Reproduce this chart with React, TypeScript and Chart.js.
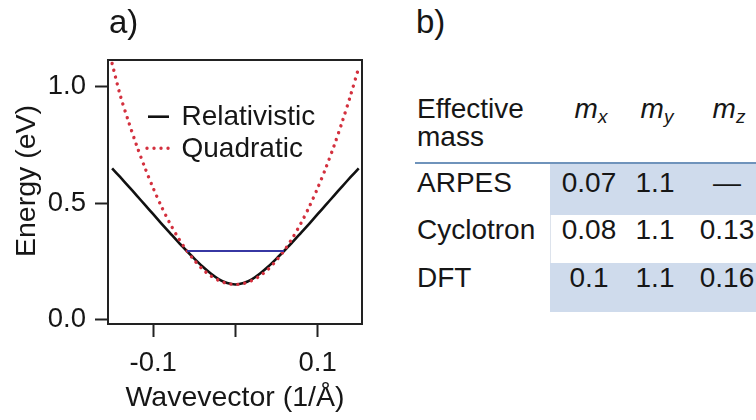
import React, { useEffect, useRef } from 'react';
import { Chart, registerables } from 'chart.js';

Chart.register(...registerables);

// ---------- data (panel a) ----------
const waveVector = [
  -0.15, -0.14, -0.13, -0.12, -0.11, -0.10, -0.09, -0.08, -0.07, -0.06, -0.05, -0.04, -0.03, -0.02, -0.01,
  0.0, 0.01, 0.02, 0.03, 0.04, 0.05, 0.06, 0.07, 0.08, 0.09, 0.10, 0.11, 0.12, 0.13, 0.14, 0.15,
];
const relativisticEnergy = [
  0.649, 0.611, 0.572, 0.532, 0.492, 0.452, 0.412, 0.373, 0.334, 0.297, 0.261, 0.227, 0.197, 0.172, 0.156,
  0.150, 0.156, 0.172, 0.197, 0.227, 0.261, 0.297, 0.334, 0.373, 0.412, 0.452, 0.492, 0.532, 0.572, 0.611, 0.649,
];
const quadraticEnergy = [
  1.100, 0.962, 0.850, 0.746, 0.651, 0.564, 0.485, 0.415, 0.353, 0.299, 0.254, 0.216, 0.187, 0.167, 0.154,
  0.150, 0.154, 0.167, 0.187, 0.216, 0.254, 0.299, 0.353, 0.415, 0.485, 0.564, 0.651, 0.746, 0.850, 0.962, 1.082,
];
const fermiWaveVector = [-0.059, 0.059];
const fermiEnergy = [0.294, 0.294];

const seriesLabels = ['Relativistic', 'Quadratic'];
const xTickValues = [-0.1, 0, 0.1];
const xTickLabels = ['-0.1', '', '0.1'];
const yTickValues = [0, 0.5, 1.0];
const yTickLabels = ['0.0', '0.5', '1.0'];
const xAxisTitle = 'Wavevector (1/Å)';
const yAxisTitle = 'Energy (eV)';

// ---------- data (panel b) ----------
const methods = ['ARPES', 'Cyclotron', 'DFT'];
const massColumns = ['x', 'y', 'z'];
const massX = ['0.07', '0.08', '0.1'];
const massY = ['1.1', '1.1', '1.1'];
const massZ = ['—', '0.13', '0.16'];

const FONT = "'Liberation Sans', Arial, sans-serif";
const INK = '#161616';

const decorPlugin = {
  id: 'decor',
  afterDatasetsDraw(chart: any) {
    const { ctx, chartArea: a } = chart;
    ctx.save();
    // plot frame
    ctx.strokeStyle = '#222';
    ctx.lineWidth = 2;
    ctx.strokeRect(a.left, a.top, a.right - a.left, a.bottom - a.top);
    // legend inside plot
    const rows = [56.7, 88.3];
    chart.data.datasets.slice(0, 2).forEach((ds: any, i: number) => {
      const y = a.top + rows[i];
      ctx.save();
      ctx.strokeStyle = ds.borderColor;
      ctx.lineWidth = ds.borderWidth;
      ctx.lineCap = ds.borderCapStyle || 'butt';
      ctx.setLineDash(ds.borderDash || []);
      ctx.beginPath();
      ctx.moveTo(a.left + (ds.borderDash ? 39 : 40), y);
      ctx.lineTo(a.left + 61, y);
      ctx.stroke();
      ctx.restore();
      ctx.fillStyle = INK;
      ctx.font = `28px ${FONT}`;
      ctx.textAlign = 'left';
      ctx.textBaseline = 'middle';
      ctx.fillText(ds.label, a.left + 73.5, y + 0.5);
    });
    ctx.restore();
  },
  afterDraw(chart: any) {
    const { ctx } = chart;
    ctx.save();
    ctx.fillStyle = INK;
    // panel label
    ctx.font = `33px ${FONT}`;
    ctx.textAlign = 'left';
    ctx.textBaseline = 'alphabetic';
    ctx.fillText('a)', 109, 33);
    // y axis title
    ctx.font = `28.5px ${FONT}`;
    ctx.translate(35, 181);
    ctx.rotate(-Math.PI / 2);
    ctx.textAlign = 'center';
    ctx.fillText(yAxisTitle, 0, 0);
    ctx.restore();
  },
};

function EnergyChart() {
  const ref = useRef<HTMLCanvasElement | null>(null);
  useEffect(() => {
    if (!ref.current) return;
    const toPts = (xs: number[], ys: number[]) => xs.map((x, i) => ({ x, y: ys[i] }));
    const chart = new Chart(ref.current, {
      type: 'scatter',
      data: {
        datasets: [
          {
            label: seriesLabels[0],
            data: toPts(waveVector, relativisticEnergy),
            showLine: true,
            borderColor: '#111111',
            borderWidth: 2.6,
            pointRadius: 0,
            tension: 0.3,
            order: 2,
          },
          {
            label: seriesLabels[1],
            data: toPts(waveVector, quadraticEnergy),
            showLine: true,
            borderColor: '#d3303e',
            borderWidth: 3.4,
            borderDash: [0.01, 7],
            borderCapStyle: 'round',
            pointRadius: 0,
            tension: 0.3,
            order: 1,
          },
          {
            label: 'Fermi level',
            data: toPts(fermiWaveVector, fermiEnergy),
            showLine: true,
            borderColor: '#3737a3',
            borderWidth: 2,
            pointRadius: 0,
            order: 0,
          },
        ],
      } as any,
      options: {
        animation: false,
        responsive: false,
        events: [],
        layout: { padding: { left: 0, right: 18, top: 60, bottom: 0 } },
        plugins: { legend: { display: false }, tooltip: { enabled: false }, title: { display: false } },
        scales: {
          x: {
            type: 'linear',
            min: -0.155,
            max: 0.154,
            afterFit: (s: any) => { s.height = 96; },
            afterBuildTicks: (s: any) => { s.ticks = xTickValues.map((v) => ({ value: v })); },
            ticks: {
              callback: (_v: any, i: number) => xTickLabels[i],
              color: INK,
              font: { family: FONT, size: 27.5 },
              padding: 10,
              maxRotation: 0,
              autoSkip: false,
            },
            grid: { drawOnChartArea: false, drawTicks: true, tickLength: 13, tickColor: '#222', tickWidth: 2 },
            border: { display: false },
            title: { display: true, text: xAxisTitle, color: INK, font: { family: FONT, size: 28.5 }, padding: { top: 0, bottom: 4.5 } },
          },
          y: {
            type: 'linear',
            min: -0.02,
            max: 1.115,
            afterFit: (s: any) => { s.width = 108; },
            afterBuildTicks: (s: any) => { s.ticks = yTickValues.map((v) => ({ value: v })); },
            ticks: {
              callback: (_v: any, i: number) => yTickLabels[i],
              color: INK,
              font: { family: FONT, size: 27.5 },
              padding: 9,
              autoSkip: false,
            },
            grid: { drawOnChartArea: false, drawTicks: true, tickLength: 13, tickColor: '#222', tickWidth: 2 },
            border: { display: false },
          },
        },
      } as any,
      plugins: [decorPlugin as any],
    });
    return () => chart.destroy();
  }, []);
  return <canvas ref={ref} width={380} height={420} style={{ display: 'block', width: 380, height: 420 }} />;
}

function T(props: { x: number; base: number; size?: number; center?: boolean; children: any }) {
  const size = props.size ?? 28;
  const top = props.base - 0.8465 * size;
  return (
    <div
      style={{
        position: 'absolute',
        left: props.center ? props.x - 60 : props.x,
        width: props.center ? 120 : undefined,
        textAlign: props.center ? 'center' : 'left',
        top,
        fontFamily: FONT,
        fontSize: size,
        lineHeight: `${size}px`,
        whiteSpace: 'nowrap',
        color: INK,
      }}
    >
      {props.children}
    </div>
  );
}

const colCenters = [589, 655, 727];
const rowBaselines = [193, 240, 288];

export default function App() {
  const cols = [massX, massY, massZ];
  return (
    <div style={{ position: 'absolute', left: 0, top: 0, width: 756, height: 420, background: '#fff', overflow: 'hidden' }}>
      <div style={{ position: 'absolute', left: 0, top: 0, width: 380, height: 420 }}>
        <EnergyChart />
      </div>
      {/* table shading */}
      <div style={{ position: 'absolute', left: 550, top: 164, width: 206, height: 51, background: '#cfdbec' }} />
      <div style={{ position: 'absolute', left: 550, top: 263, width: 206, height: 49, background: '#cfdbec' }} />
      <div style={{ position: 'absolute', left: 550, top: 215, width: 1, height: 48, background: '#dde3ec' }} />
      <div style={{ position: 'absolute', left: 415, top: 162, width: 341, height: 2, background: '#6f93bb' }} />

      <T x={416} base={33} size={33}>b)</T>
      <T x={417} base={119}>Effective</T>
      <T x={417} base={147}>mass</T>
      {massColumns.map((c, j) => (
        <T key={c} x={colCenters[j] + 2} base={119} center>
          <i>
            m
            <span style={{ fontSize: 19, position: 'relative', top: 5, lineHeight: 0 }}>{c}</span>
          </i>
        </T>
      ))}
      {methods.map((m, i) => (
        <React.Fragment key={m}>
          <T x={417} base={rowBaselines[i]}>{m}</T>
          {cols.map((col, j) => (
            <T key={j} x={colCenters[j]} base={rowBaselines[i]} center>
              {col[i]}
            </T>
          ))}
        </React.Fragment>
      ))}
    </div>
  );
}
